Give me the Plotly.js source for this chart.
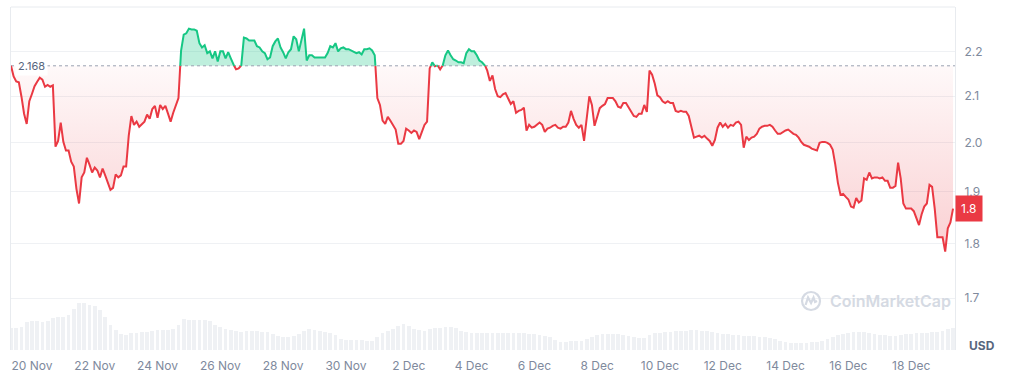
<!DOCTYPE html>
<html>
<head>
<meta charset="utf-8">
<script src="https://cdn.plot.ly/plotly-3.0.1.min.js"></script>
<style>html,body{margin:0;padding:0;background:#fff}#chart{width:1013px;height:373px}</style>
</head>
<body>
<div id="chart"></div>
<script>
// ---- data ----
const startTime = '2025-11-19T08:00:00Z';
const priceStepHours = 2;
const prices = [
2.168,2.144,2.133,2.131,2.099,2.062,2.040,2.089,2.105,2.122,
2.132,2.141,2.137,2.121,2.125,2.121,2.124,1.992,2.004,2.043,
2.002,1.984,1.984,1.961,1.951,1.906,1.877,1.929,1.939,1.969,
1.955,1.939,1.949,1.943,1.929,1.947,1.933,1.916,1.904,1.908,
1.935,1.929,1.933,1.951,1.951,2.015,2.057,2.038,2.045,2.034,
2.040,2.045,2.060,2.051,2.072,2.079,2.053,2.081,2.072,2.079,
2.062,2.045,2.064,2.081,2.096,2.203,2.240,2.243,2.254,2.252,
2.252,2.249,2.220,2.210,2.215,2.197,2.201,2.185,2.201,2.178,
2.201,2.201,2.185,2.199,2.185,2.171,2.160,2.162,2.169,2.233,
2.231,2.226,2.226,2.226,2.213,2.210,2.201,2.197,2.183,2.187,
2.213,2.224,2.231,2.210,2.199,2.185,2.199,2.206,2.236,2.229,
2.201,2.226,2.254,2.180,2.192,2.192,2.187,2.187,2.187,2.187,
2.187,2.197,2.213,2.210,2.220,2.201,2.208,2.210,2.206,2.206,
2.203,2.201,2.197,2.199,2.194,2.206,2.206,2.208,2.203,2.192,
2.096,2.081,2.047,2.040,2.055,2.047,2.036,2.028,1.998,1.998,
2.004,2.030,2.026,2.021,2.026,2.023,2.008,2.023,2.038,2.045,
2.162,2.176,2.167,2.169,2.160,2.169,2.192,2.203,2.192,2.183,
2.180,2.176,2.176,2.174,2.197,2.206,2.201,2.201,2.192,2.180,
2.176,2.171,2.157,2.134,2.146,2.116,2.100,2.098,2.104,2.107,
2.096,2.083,2.089,2.064,2.068,2.070,2.075,2.026,2.038,2.032,
2.034,2.038,2.043,2.038,2.023,2.030,2.032,2.036,2.038,2.032,
2.030,2.034,2.034,2.043,2.068,2.051,2.038,2.032,2.038,2.004,
2.047,2.100,2.081,2.036,2.055,2.074,2.079,2.083,2.096,2.096,
2.096,2.089,2.077,2.075,2.085,2.085,2.075,2.068,2.057,2.055,
2.062,2.062,2.081,2.066,2.157,2.148,2.128,2.102,2.098,2.089,
2.085,2.089,2.085,2.085,2.068,2.066,2.068,2.066,2.066,2.057,
2.032,2.011,2.013,2.015,2.011,2.015,2.009,2.004,1.994,2.006,
2.032,2.043,2.034,2.040,2.032,2.038,2.036,2.043,2.045,2.038,
1.990,2.013,2.006,2.011,2.013,2.019,2.030,2.034,2.036,2.036,
2.038,2.034,2.026,2.019,2.019,2.023,2.026,2.028,2.023,2.019,
2.017,2.011,2.002,1.996,1.994,1.992,1.988,1.986,1.984,2.000,
2.002,2.002,2.000,1.996,1.986,1.955,1.918,1.894,1.896,1.890,
1.885,1.871,1.869,1.888,1.879,1.883,1.927,1.924,1.939,1.927,
1.929,1.929,1.927,1.929,1.922,1.922,1.908,1.908,1.912,1.959,
1.927,1.877,1.867,1.867,1.867,1.862,1.848,1.835,1.856,1.871,
1.877,1.914,1.910,1.867,1.812,1.812,1.812,1.785,1.829,1.840,1.867
];
const volumeStepHours = 4;
const volumes = [
22,22,23,28,29,29,28,29,32,33,
33,35,41,47,47,45,44,40,33,25,
20,16,15,17,17,18,18,19,20,20,
20,21,25,31,30,30,30,30,29,25,
23,21,20,19,18,19,19,19,18,18,
16,14,13,13,14,16,19,21,20,19,
18,17,15,11,10,10,10,10,9,9,
13,17,19,21,24,26,24,21,20,19,
21,22,22,23,23,22,19,18,17,17,
17,17,17,17,17,17,17,17,17,16,
16,15,14,13,10,8,8,9,9,9,
11,13,15,16,16,16,16,15,14,13,
12,12,15,17,17,18,18,19,19,19,
20,20,19,19,18,17,16,16,15,15,
14,14,14,13,13,12,11,9,8,7,
7,7,7,8,8,9,11,13,15,16,
17,18,18,18,17,16,15,15,14,14,
15,16,16,17,17,17,18,18,19,21,
22
];
const baseline = 2.168;
const lastLabel = '1.8';
const yTickVals = [1.7, 1.8, 1.9, 2.0, 2.1, 2.2];
const yTickText = ['1.7', '1.8', '1.9', '2.0', '2.1', '2.2'];
const firstTick = '2025-11-20T00:00:00Z';
const currency = 'USD';
const watermark = 'CoinMarketCap';

// ---- build ----
const H = 3600e3;
const t0 = Date.parse(startTime);
const pt = prices.map((_, i) => t0 + i * priceStepHours * H);
const vt = volumes.map((_, i) => t0 + i * volumeStepHours * H);
const xRange = [t0, t0 + (30 * 24 + 1.5) * H];
const minPrice = Math.min(...prices);

// split the series at baseline crossings
const sx = [], sy = [];
for (let i = 0; i < prices.length; i++) {
  sx.push(pt[i]); sy.push(prices[i]);
  if (i < prices.length - 1) {
    const a = prices[i] - baseline, b = prices[i + 1] - baseline;
    if (a * b < 0) {
      const f = a / (a - b);
      sx.push(pt[i] + f * (pt[i + 1] - pt[i]));
      sy.push(baseline);
    }
  }
}
const baseArr = sx.map(() => baseline);
const GREEN = '#16c784', RED = '#ea3943';

const traces = [
  {type:'bar', x:vt, y:volumes, yaxis:'y2', marker:{color:'#eff1f4', line:{width:0}},
   width: volumes.map(() => volumeStepHours * H * 0.72), hoverinfo:'skip'},
  {x:sx, y:baseArr, mode:'lines', line:{width:0}, hoverinfo:'skip'},
  {x:sx, y:sy.map(v => Math.max(v, baseline)), mode:'lines', line:{width:0},
   fill:'tonexty', fillcolor:'rgba(22,199,132,0.28)', hoverinfo:'skip'},
  {x:sx, y:baseArr, mode:'lines', line:{width:0}, hoverinfo:'skip'},
  {x:sx, y:sy.map(v => Math.min(v, baseline)), mode:'lines', line:{width:0},
   fill:'tonexty', fillcolor:'rgba(234,57,67,0.08)',
   fillgradient:{type:'vertical', start:minPrice, stop:baseline,
     colorscale:[[0,'rgba(234,57,67,0.24)'],[1,'rgba(234,57,67,0.03)']]},
   hoverinfo:'skip'},
  {x:xRange, y:[baseline, baseline], mode:'lines', line:{color:'#9aa2b1', width:1, dash:'dot'}, hoverinfo:'skip'},
  {x:sx, y:sy.map(v => v <= baseline ? v : null), mode:'lines', line:{color:RED, width:2}, connectgaps:false},
  {x:sx, y:sy.map(v => v >= baseline ? v : null), mode:'lines', line:{color:GREEN, width:2}, connectgaps:false}
];

const logoX = 0.8475, logoY = 0.1429;
const layout = {
  width:1013, height:373,
  margin:{l:11, r:58, t:7, b:23, pad:0},
  paper_bgcolor:'#ffffff', plot_bgcolor:'#ffffff',
  showlegend:false,
  font:{family:'Inter, "Noto Sans", sans-serif', color:'#808a9d', size:12},
  xaxis:{type:'date', range:xRange, tick0:Date.parse(firstTick), dtick:2*86400000,
    tickformat:'%-d %b', showgrid:false, zeroline:false, showline:false,
    ticks:'outside', ticklen:5, tickcolor:'rgba(0,0,0,0)',
    tickfont:{size:12, color:'#808a9d'}, fixedrange:true},
  yaxis:{type:'log', side:'right', range:[Math.log10(1.6102), Math.log10(2.3056)],
    tickmode:'array', tickvals:yTickVals, ticktext:yTickText,
    showgrid:true, gridcolor:'#eff1f4', gridwidth:1, zeroline:false,
    showline:true, mirror:true, linecolor:'#e8ebef', linewidth:1,
    ticks:'outside', ticklen:6, tickcolor:'rgba(0,0,0,0)',
    tickfont:{size:12, color:'#808a9d'}, fixedrange:true},
  yaxis2:{overlaying:'y', range:[0, 343], visible:false, fixedrange:true},
  bargap:0,
  shapes:[
    {type:'line', xref:'paper', yref:'paper', x0:0, x1:1, y0:1, y1:1, line:{color:'#e8ebef', width:1}},
    {type:'circle', xref:'paper', yref:'paper', xsizemode:'pixel', ysizemode:'pixel',
     xanchor:logoX, yanchor:logoY, x0:-9, x1:9, y0:-9, y1:9, line:{color:'#d5dae3', width:2.2}},
    {type:'path', xref:'paper', yref:'paper', xsizemode:'pixel', ysizemode:'pixel',
     xanchor:logoX, yanchor:logoY, path:'M -5.5 -4 L -3 3.5 L 0 -2 L 2.5 3.5 L 4 -1 L 6 0',
     line:{color:'#d5dae3', width:2.2}}
  ],
  annotations:[
    {xref:'paper', x:0, xanchor:'left', xshift:4, yref:'y', y:Math.log10(baseline), yanchor:'middle',
     text:baseline.toFixed(3), showarrow:false, bgcolor:'#ffffff', borderpad:2,
     font:{size:11, color:'#58667e'}},
    {xref:'paper', x:1, xanchor:'left', xshift:0, yref:'y', y:Math.log10(prices[prices.length-1]), yanchor:'middle',
     text:lastLabel, showarrow:false, bgcolor:RED, borderpad:5,
     font:{size:12, color:'#ffffff'}},
    {xref:'paper', x:1, xanchor:'left', xshift:12, yref:'paper', y:0.0117, yanchor:'middle',
     text:'<b>' + currency + '</b>', showarrow:false, font:{size:12, color:'#58667e'}},
    {xref:'paper', x:0.8655, xanchor:'left', yref:'paper', y:logoY, yanchor:'middle',
     text:watermark, showarrow:false, font:{size:16, color:'#d5dae3', weight:600}}
  ]
};

Plotly.newPlot('chart', traces, layout, {staticPlot:true, displayModeBar:false});
</script>
</body>
</html>
